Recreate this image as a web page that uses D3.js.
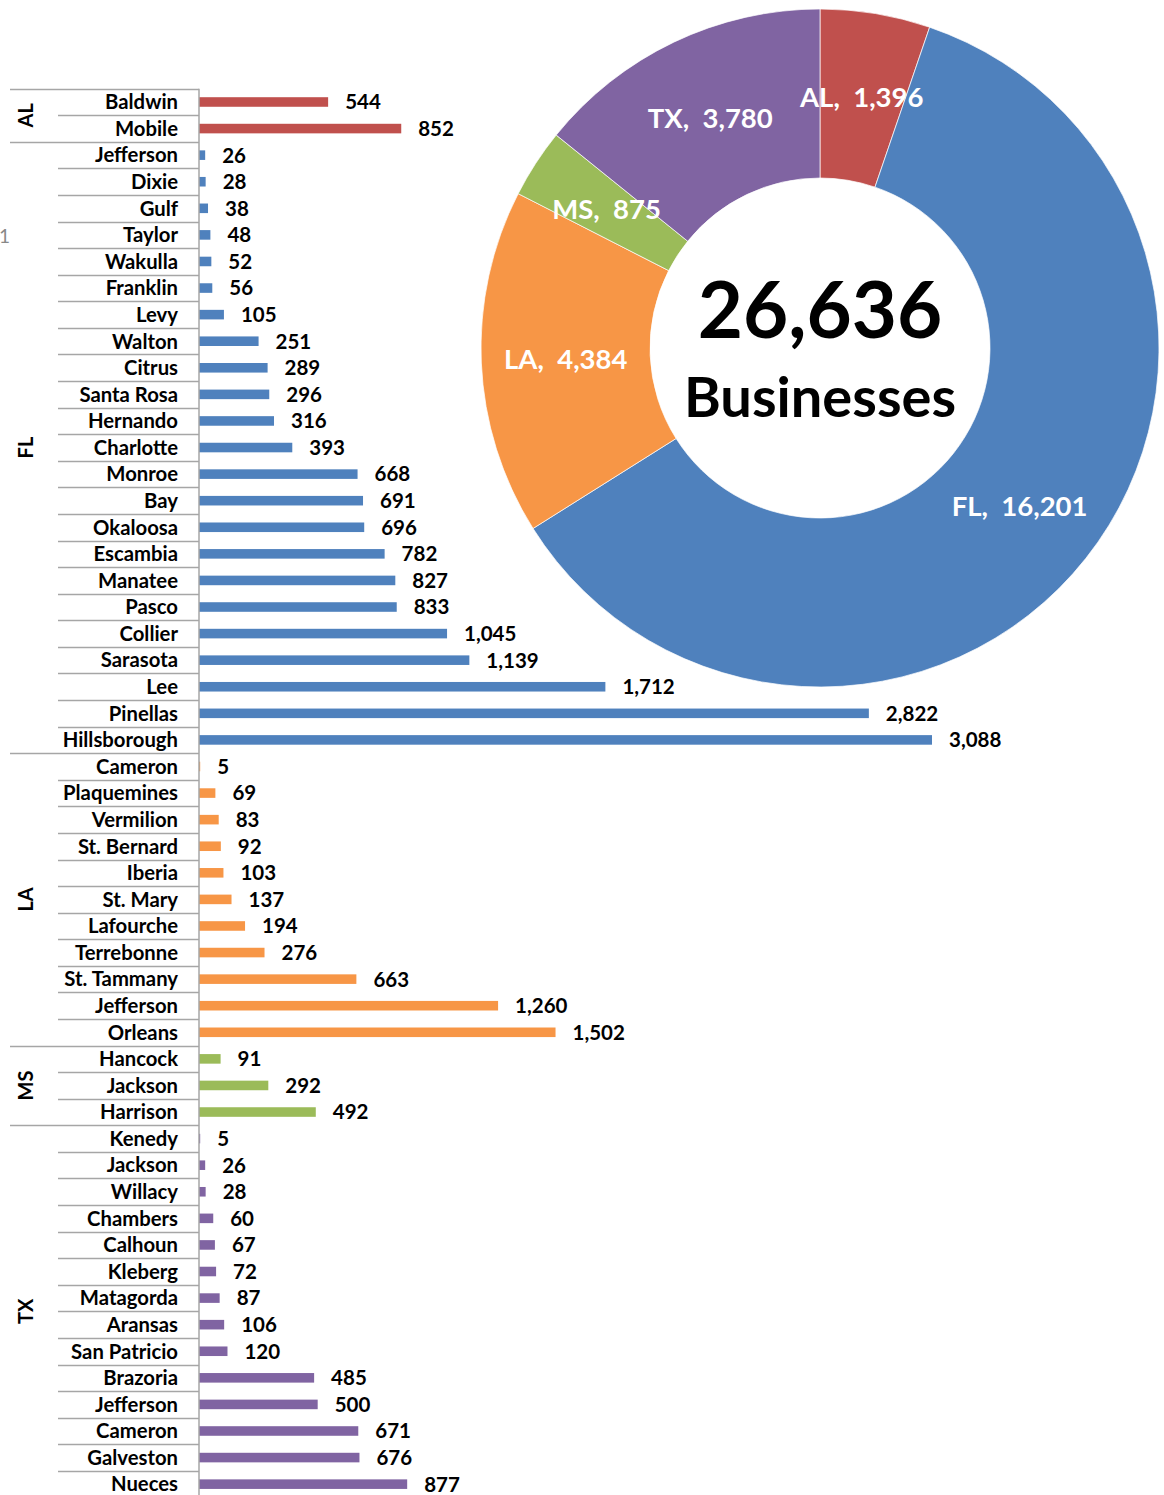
<!DOCTYPE html>
<html>
<head>
<meta charset="utf-8">
<script src="https://cdn.jsdelivr.net/npm/d3@7"></script>
<style>
  body { margin: 0; background: #fff; }
  svg { display: block; font-family: Lato, "Open Sans", sans-serif; }
</style>
</head>
<body>
<svg width="1164" height="1495"></svg>
<script>
// county counts per state (bar chart)
var states = ["AL", "FL", "LA", "MS", "TX"];
var alCounties = ["Baldwin", "Mobile"];
var alValues = [544, 852];
var flCounties = ["Jefferson", "Dixie", "Gulf", "Taylor", "Wakulla", "Franklin", "Levy", "Walton", "Citrus",
  "Santa Rosa", "Hernando", "Charlotte", "Monroe", "Bay", "Okaloosa", "Escambia", "Manatee", "Pasco",
  "Collier", "Sarasota", "Lee", "Pinellas", "Hillsborough"];
var flValues = [26, 28, 38, 48, 52, 56, 105, 251, 289, 296, 316, 393, 668, 691, 696, 782, 827, 833,
  1045, 1139, 1712, 2822, 3088];
var laCounties = ["Cameron", "Plaquemines", "Vermilion", "St. Bernard", "Iberia", "St. Mary", "Lafourche",
  "Terrebonne", "St. Tammany", "Jefferson", "Orleans"];
var laValues = [5, 69, 83, 92, 103, 137, 194, 276, 663, 1260, 1502];
var msCounties = ["Hancock", "Jackson", "Harrison"];
var msValues = [91, 292, 492];
var txCounties = ["Kenedy", "Jackson", "Willacy", "Chambers", "Calhoun", "Kleberg", "Matagorda", "Aransas",
  "San Patricio", "Brazoria", "Jefferson", "Cameron", "Galveston", "Nueces"];
var txValues = [5, 26, 28, 60, 67, 72, 87, 106, 120, 485, 500, 671, 676, 877];

// state totals (donut)
var stateTotals = [1396, 16201, 4384, 875, 3780];
var grandTotal = "26,636";
var centerLabel = "Businesses";

var stateColors = ["#C0504D", "#4F81BD", "#F79646", "#9BBB59", "#8064A2"];

var svg = d3.select("svg"),
    width = +svg.attr("width"),
    height = +svg.attr("height");

// flatten groups into rows
var groups = [alCounties, flCounties, laCounties, msCounties, txCounties];
var groupValues = [alValues, flValues, laValues, msValues, txValues];
var rows = [];
groups.forEach(function(names, gi) {
  names.forEach(function(n, i) {
    rows.push({ key: states[gi] + "-" + n, name: n, value: groupValues[gi][i], state: gi, first: i == 0 });
  });
});

var axisX = 199;
var step = 26.58;
var top0 = 88.7;

var y = d3.scaleBand()
    .domain(rows.map(function(d) { return d.key; }))
    .range([top0, top0 + step * rows.length])
    .paddingInner(0.64)
    .paddingOuter(0.32);

var x = d3.scaleLinear()
    .domain([0, 3500])
    .range([axisX, axisX + 3500 * (733 / 3088)]);

var fmt = d3.format(",");

// stray fragment at left edge
svg.append("text")
    .attr("x", -1)
    .attr("y", 243)
    .attr("fill", "#888")
    .attr("font-size", 19)
    .text("1");

var bars = svg.append("g");

bars.selectAll("rect")
  .data(rows)
  .enter().append("rect")
    .attr("x", x(0))
    .attr("y", function(d) { return y(d.key); })
    .attr("width", function(d) { return x(d.value) - x(0); })
    .attr("height", y.bandwidth())
    .attr("fill", function(d) { return stateColors[d.state]; });

bars.selectAll("text.val")
  .data(rows)
  .enter().append("text")
    .attr("class", "val")
    .attr("x", function(d) { return x(d.value) + 17; })
    .attr("y", function(d) { return y(d.key) + y.bandwidth() / 2; })
    .attr("dy", "0.36em")
    .attr("font-size", 20.5)
    .attr("font-weight", "bold")
    .text(function(d) { return fmt(d.value); });

// category axis: county names, separators, state names
var cat = svg.append("g");

cat.selectAll("text.county")
  .data(rows)
  .enter().append("text")
    .attr("class", "county")
    .attr("x", 178)
    .attr("y", function(d) { return y(d.key) + y.bandwidth() / 2; })
    .attr("dy", "0.36em")
    .attr("text-anchor", "end")
    .attr("font-size", 20.3)
    .attr("font-weight", "bold")
    .text(function(d) { return d.name; });

function bandTop(d) { return y(d.key) - y.step() * y.paddingInner() / 2; }

// row separators; the first row of each state starts a full-width line
cat.selectAll("line.sep")
  .data(rows)
  .enter().append("line")
    .attr("class", "sep")
    .attr("x1", function(d) { return d.first ? 10 : 58; })
    .attr("x2", axisX)
    .attr("y1", function(d) { return Math.round(bandTop(d)) + 0.5; })
    .attr("y2", function(d) { return Math.round(bandTop(d)) + 0.5; })
    .attr("stroke", "#a6a6a6")
    .attr("stroke-width", 1.5);

cat.append("line")
    .attr("x1", axisX).attr("x2", axisX)
    .attr("y1", top0).attr("y2", height)
    .attr("stroke", "#a6a6a6")
    .attr("stroke-width", 1.5);

cat.selectAll("text.state")
  .data(states)
  .enter().append("text")
    .attr("class", "state")
    .attr("transform", function(s, i) {
      var names = groups[i];
      var y0 = y(s + "-" + names[0]);
      var y1 = y(s + "-" + names[names.length - 1]) + y.bandwidth();
      return "translate(26," + (y0 + y1) / 2 + ") rotate(-90)";
    })
    .attr("dy", "0.36em")
    .attr("text-anchor", "middle")
    .attr("font-size", 20)
    .attr("font-weight", "bold")
    .text(function(s) { return s; });

// donut
var cx = 820, cy = 348, outerR = 339, innerR = 170;

var pie = d3.pie().sort(null).value(function(d) { return d; });
var arc = d3.arc().innerRadius(innerR).outerRadius(outerR);
var labelArc = d3.arc().innerRadius((innerR + outerR) / 2).outerRadius((innerR + outerR) / 2);

var donut = svg.append("g")
    .attr("transform", "translate(" + cx + "," + cy + ")");

var slices = pie(stateTotals);

donut.selectAll("path")
  .data(slices)
  .enter().append("path")
    .attr("d", arc)
    .attr("fill", function(d, i) { return stateColors[i]; })
    .attr("stroke", "#fff")
    .attr("stroke-width", 0.7);

donut.selectAll("text.slice")
  .data(slices)
  .enter().append("text")
    .attr("class", "slice")
    .attr("transform", function(d) { return "translate(" + labelArc.centroid(d) + ")"; })
    .attr("dy", "0.36em")
    .attr("text-anchor", "middle")
    .attr("fill", "#fff")
    .attr("font-size", 27.5)
    .attr("font-weight", "bold")
    .attr("xml:space", "preserve")
    .style("white-space", "pre")
    .text(function(d, i) { return states[i] + ",  " + fmt(d.value); });

donut.append("text")
    .attr("y", -38)
    .attr("dy", "0.36em")
    .attr("text-anchor", "middle")
    .attr("font-size", 78)
    .attr("font-weight", "bold")
    .text(grandTotal);

donut.append("text")
    .attr("y", 49)
    .attr("dy", "0.36em")
    .attr("text-anchor", "middle")
    .attr("font-size", 56)
    .attr("font-weight", "bold")
    .text(centerLabel);
</script>
</body>
</html>
